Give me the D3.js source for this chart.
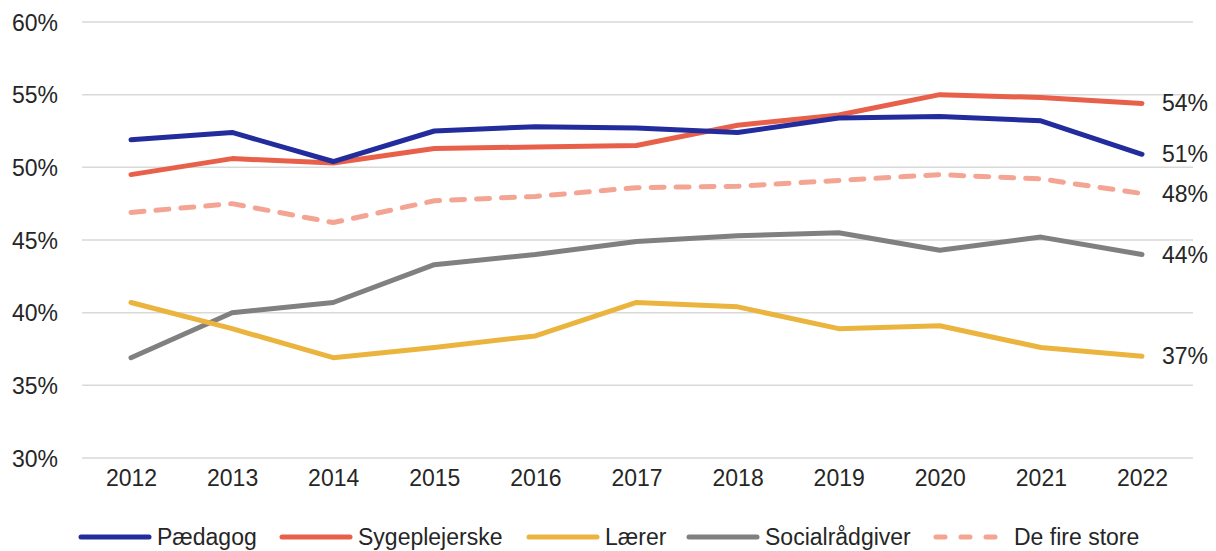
<!DOCTYPE html>
<html lang="da">
<head>
<meta charset="UTF-8">
<title>Andel</title>
<script src="https://d3js.org/d3.v7.min.js"></script>
<style>
  body { margin: 0; background: #fff; font-family: 'Liberation Sans', Arial, sans-serif; }
  svg text { fill: #262626; font-size: 23px; }
  .grid line { stroke: #d9d9d9; stroke-width: 1.5px; }
</style>
</head>
<body>
<svg id="chart" width="1216" height="551"></svg>
<script>
// data
const years = ["2012","2013","2014","2015","2016","2017","2018","2019","2020","2021","2022"];
const paedagog = [51.9, 52.4, 50.4, 52.5, 52.8, 52.7, 52.4, 53.4, 53.5, 53.2, 50.9];
const sygeplejerske = [49.5, 50.6, 50.3, 51.3, 51.4, 51.5, 52.9, 53.6, 55.0, 54.8, 54.4];
const laerer = [40.7, 38.9, 36.9, 37.6, 38.4, 40.7, 40.4, 38.9, 39.1, 37.6, 37.0];
const socialraadgiver = [36.9, 40.0, 40.7, 43.3, 44.0, 44.9, 45.3, 45.5, 44.3, 45.2, 44.0];
const deFireStore = [46.9, 47.5, 46.2, 47.7, 48.0, 48.6, 48.7, 49.1, 49.5, 49.2, 48.2];
const yTicks = [30, 35, 40, 45, 50, 55, 60];

const series = [
  { name: "Pædagog", values: paedagog, color: "#232c9c", dash: null },
  { name: "Sygeplejerske", values: sygeplejerske, color: "#e8604a", dash: null },
  { name: "Lærer", values: laerer, color: "#ebb43e", dash: null },
  { name: "Socialrådgiver", values: socialraadgiver, color: "#808080", dash: null },
  { name: "De fire store", values: deFireStore, color: "#f4a493", dash: "13,12" }
];

const svg = d3.select("#chart");
const x = d3.scalePoint().domain(years).range([131, 1142]);
const y = d3.scaleLinear().domain([30, 60]).range([458, 22]);

// gitterlinjer
svg.append("g").attr("class", "grid")
  .selectAll("line").data(yTicks).enter().append("line")
  .attr("x1", 82).attr("x2", 1193)
  .attr("y1", d => y(d)).attr("y2", d => y(d));

// y-akse
const yAxis = svg.append("g").attr("transform", "translate(58,0)")
  .call(d3.axisLeft(y).tickValues(yTicks).tickSize(0).tickPadding(0).tickFormat(d => d + "%"));
yAxis.select(".domain").remove();
yAxis.selectAll("text").style("font-size", "23px").attr("dy", "0.35em");

// x-akse
const xAxis = svg.append("g").attr("transform", "translate(0,469)")
  .call(d3.axisBottom(x).tickSize(0).tickPadding(0));
xAxis.select(".domain").remove();
xAxis.selectAll("text").style("font-size", "23px").attr("dy", "0.75em");

const line = d3.line().x((d, i) => x(years[i])).y(d => y(d));

// linjer, tegnet bagfra så Pædagog ligger øverst
series.slice().reverse().forEach(s => {
  svg.append("path")
    .datum(s.values)
    .attr("d", line)
    .attr("fill", "none")
    .attr("stroke", s.color)
    .attr("stroke-width", 5)
    .attr("stroke-linejoin", "round")
    .attr("stroke-linecap", "round")
    .attr("stroke-dasharray", s.dash);
});

// slutetiketter
svg.append("g").selectAll("text").data(series).enter().append("text")
  .attr("x", 1162)
  .attr("y", d => y(d.values[d.values.length - 1]))
  .attr("dy", "0.35em")
  .text(d => Math.round(d.values[d.values.length - 1]) + "%");

// legende
const legendX = [78, 279, 526, 686, 933];
const legend = svg.append("g").selectAll("g").data(series).enter().append("g")
  .attr("transform", (d, i) => `translate(${legendX[i]},537)`);
legend.append("line")
  .attr("x1", 3).attr("x2", d => d.dash ? 68 : 71)
  .attr("y1", 0).attr("y2", 0)
  .attr("stroke", d => d.color)
  .attr("stroke-width", 5)
  .attr("stroke-linecap", "round")
  .attr("stroke-dasharray", d => d.dash ? "9,16" : null);
legend.append("text")
  .attr("x", d => d.dash ? 81 : 79)
  .attr("dy", "0.35em")
  .text(d => d.name);
</script>
</body>
</html>
